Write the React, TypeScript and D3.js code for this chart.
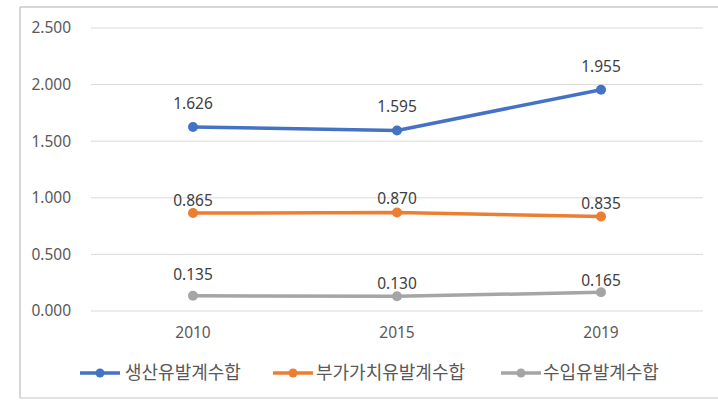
import React from "react";
import * as d3 from "d3";

const categories = ["2010", "2015", "2019"];
const seriesNames = ["생산유발계수합", "부가가치유발계수합", "수입유발계수합"];
const production = [1.626, 1.595, 1.955];
const valueAdded = [0.865, 0.87, 0.835];
const imports = [0.135, 0.13, 0.165];
const yTicks = [0, 0.5, 1.0, 1.5, 2.0, 2.5];

const colors = ["#4472C4", "#ED7D31", "#A5A5A5"];
const labelOffsets = [[23, 24, 23], [13, 14, 13], [21, 13, 12]];
const legendX = [[80, 125], [273, 316], [501, 543]];

export default function App() {
  const W = 718, H = 414;
  const left = 91, right = 703, top = 28, bottom = 311;
  const x = d3.scaleBand<string>().domain(categories).range([left, right]);
  const y = d3.scaleLinear().domain([0, 2.5]).range([bottom, top]);
  const data = [production, valueAdded, imports];
  const line = d3.line<number>()
    .x((_, i) => (x(categories[i]) as number) + x.bandwidth() / 2)
    .y((d) => y(d));
  const font = "'Noto Sans', 'Noto Sans CJK KR', sans-serif";
  const fmt = d3.format(".3f");
  return (
    <svg width={W} height={H} style={{ position: "absolute", left: 0, top: 0, background: "#fff" }} fontFamily={font}>
      <rect x={0} y={0} width={W} height={H} fill="#fff" />
      <line x1={20} x2={W} y1={7} y2={7} stroke="#c8c8c8" strokeWidth={1.5} />
      <line x1={20} x2={20} y1={7} y2={398} stroke="#c8c8c8" strokeWidth={1.5} />
      <line x1={20} x2={W} y1={398} y2={398} stroke="#d9d9d9" strokeWidth={1.5} />
      {yTicks.map((t) => (
        <g key={t}>
          <line x1={left} x2={right} y1={y(t)} y2={y(t)} stroke="#d9d9d9" strokeWidth={1} />
          <text x={71} y={y(t)} dy="0.35em" textAnchor="end" fontSize={15.5} fill="#595959">{fmt(t)}</text>
        </g>
      ))}
      {categories.map((c) => (
        <text key={c} x={(x(c) as number) + x.bandwidth() / 2} y={333} dy="0.35em" textAnchor="middle" fontSize={15.5} fill="#595959">{c}</text>
      ))}
      {data.map((s, si) => (
        <g key={si}>
          <path d={line(s) || ""} fill="none" stroke={colors[si]} strokeWidth={3.5} strokeLinejoin="round" />
          {s.map((v, i) => {
            const cx = (x(categories[i]) as number) + x.bandwidth() / 2;
            return (
              <g key={i}>
                <circle cx={cx} cy={y(v)} r={5} fill={colors[si]} />
                <text x={cx} y={y(v) - labelOffsets[si][i]} dy="0.35em" textAnchor="middle" fontSize={15.5} fill="#404040">{fmt(v)}</text>
              </g>
            );
          })}
        </g>
      ))}
      {seriesNames.map((n, si) => (
        <g key={n}>
          <line x1={legendX[si][0]} x2={legendX[si][0] + 40} y1={373} y2={373} stroke={colors[si]} strokeWidth={3.5} />
          <circle cx={legendX[si][0] + 20} cy={373} r={4.5} fill={colors[si]} />
          <text x={legendX[si][1]} y={373} dy="0.35em" fontSize={18} fill="#595959" fontFamily="'Noto Sans CJK KR', sans-serif">{n}</text>
        </g>
      ))}
    </svg>
  );
}
